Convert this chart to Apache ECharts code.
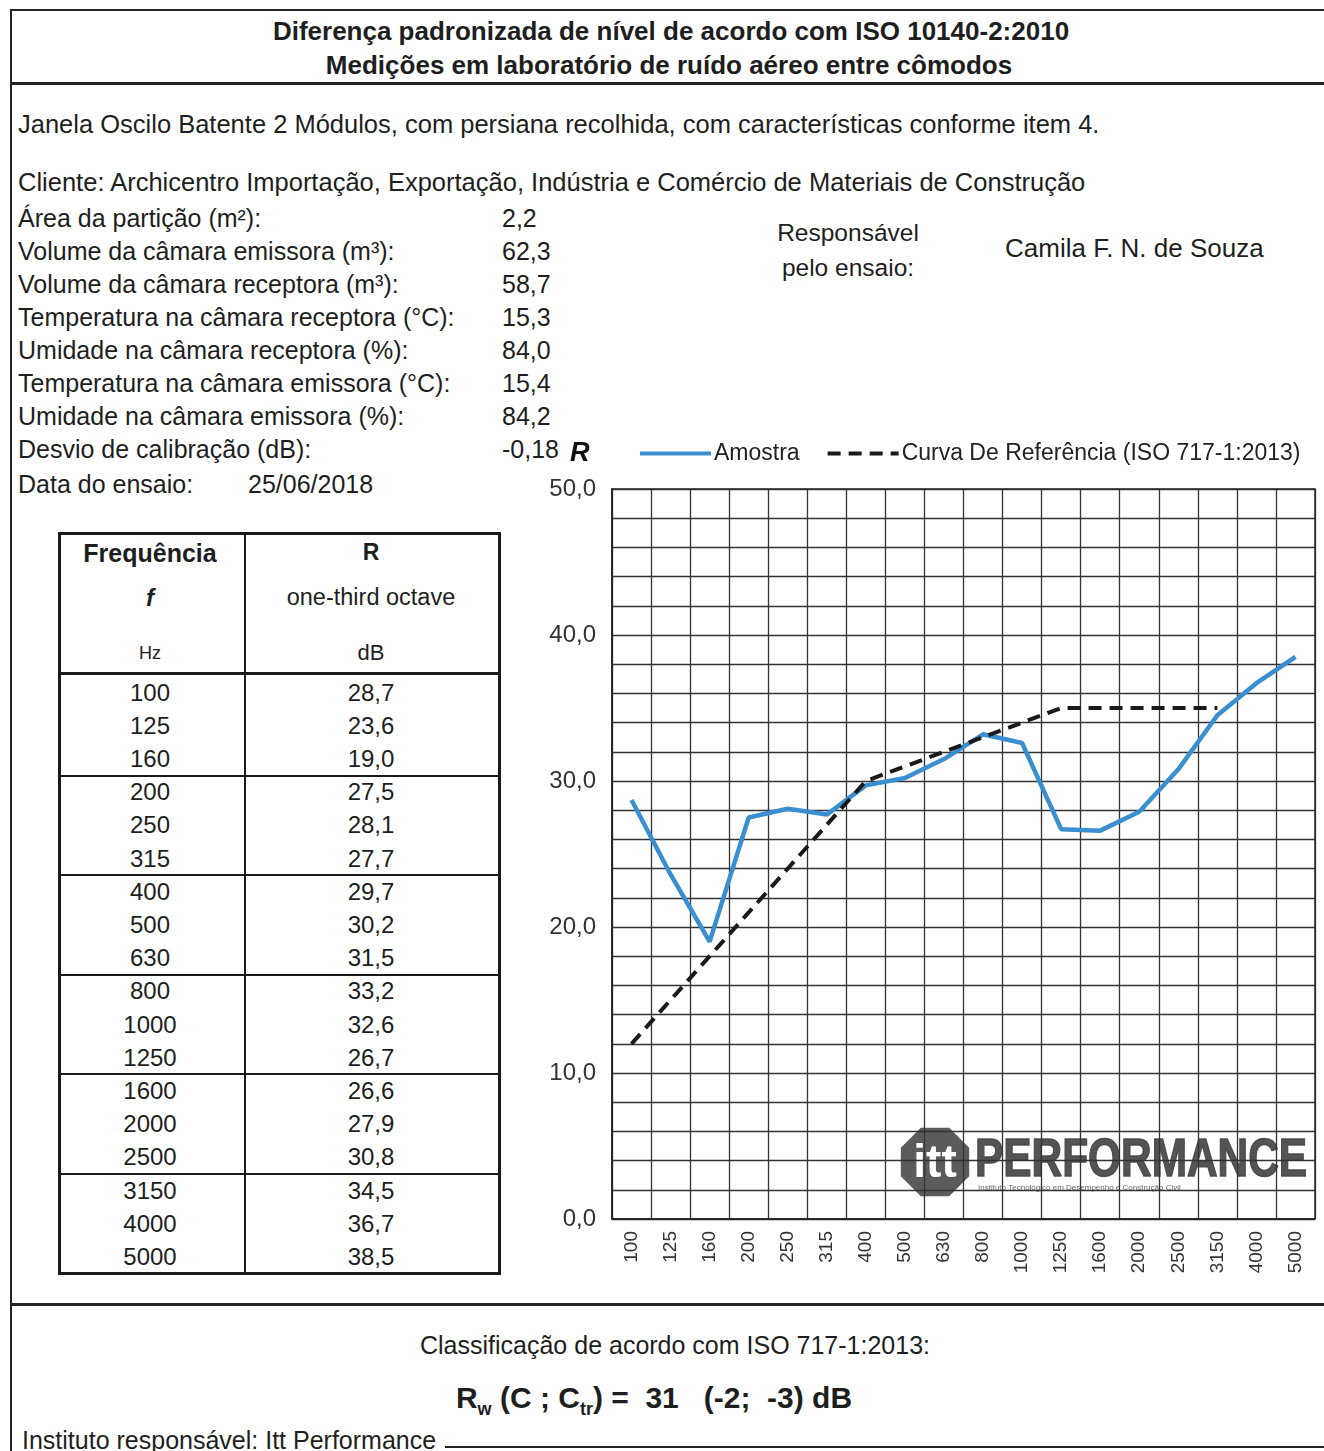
<!DOCTYPE html>
<html><head><meta charset="utf-8">
<script src="https://cdn.jsdelivr.net/npm/echarts@6/dist/echarts.min.js"></script>
<style>
html,body{margin:0;padding:0}
body{width:1324px;height:1451px;background:#fff;position:relative;overflow:hidden;font-family:"Liberation Sans",Arial,sans-serif;color:#1e1e1e}
.t{position:absolute;white-space:nowrap;line-height:1;transform:translateY(-50%)}
.c{transform:translate(-50%,-50%)}
.ln{position:absolute;background:#222}
#tbl{position:absolute;left:58px;top:532px;width:443px;height:743px;box-sizing:border-box;border:3px solid #1a1a1a}
#tbl .cell{position:absolute;white-space:nowrap;line-height:1;transform:translate(-50%,-50%);font-size:24px}
#chart{position:absolute;left:500px;top:420px;width:824px;height:880px}
</style></head><body>
<!-- frame -->
<div class="ln" style="left:10px;top:9px;width:1314px;height:2px"></div>
<div class="ln" style="left:10px;top:82px;width:1314px;height:3px"></div>
<div class="ln" style="left:10px;top:9px;width:2px;height:1442px"></div>
<div class="ln" style="left:10px;top:1303px;width:1314px;height:3px"></div>
<div class="ln" style="left:445px;top:1446px;width:879px;height:2px"></div>

<div class="t c" style="left:671px;top:31px;font-size:26px;font-weight:bold">Diferença padronizada de nível de acordo com ISO 10140-2:2010</div>
<div class="t c" style="left:669px;top:65px;font-size:26px;font-weight:bold">Medições em laboratório de ruído aéreo entre cômodos</div>

<div class="t" style="left:18px;top:125px;font-size:25.5px">Janela Oscilo Batente 2 Módulos, com persiana recolhida, com características conforme item 4.</div>
<div class="t" style="left:18px;top:183px;font-size:25.5px">Cliente: Archicentro Importação, Exportação, Indústria e Comércio de Materiais de Construção</div>
<div id="info"></div>
<div class="t c" style="left:848px;top:233px;font-size:24.5px">Responsável</div>
<div class="t c" style="left:848px;top:268px;font-size:24.5px">pelo ensaio:</div>
<div class="t" style="left:1005px;top:248px;font-size:26px">Camila F. N. de Souza</div>

<div id="tbl"></div>
<div id="chart"></div>

<div class="t c" style="left:675px;top:1345px;font-size:25px">Classificação de acordo com ISO 717-1:2013:</div>
<div class="t c" style="left:654px;top:1400px;font-size:30px;font-weight:bold">R<sub style="font-size:18px">w</sub> (C ; C<sub style="font-size:18px">tr</sub>) =&nbsp; 31 &nbsp;&nbsp;(-2;&nbsp; -3) dB</div>
<div class="t" style="left:22px;top:1440px;font-size:25px">Instituto responsável: Itt Performance</div>

<script>
// ---- data ----
const freqs = ['100','125','160','200','250','315','400','500','630','800','1000','1250','1600','2000','2500','3150','4000','5000'];
const sampleR = [28.7,23.6,19.0,27.5,28.1,27.7,29.7,30.2,31.5,33.2,32.6,26.7,26.6,27.9,30.8,34.5,36.7,38.5];
const refCurve = [12,15,18,21,24,27,30,31,32,33,34,35,35,35,35,35,null,null];
const infoLabels = ['Área da partição (m²):','Volume da câmara emissora (m³):','Volume da câmara receptora (m³):','Temperatura na câmara receptora (°C):','Umidade na câmara receptora (%):','Temperatura na câmara emissora (°C):','Umidade na câmara emissora (%):','Desvio de calibração (dB):'];
const infoValues = ['2,2','62,3','58,7','15,3','84,0','15,4','84,2','-0,18'];
const seriesNames = ['Amostra','Curva De Referência (ISO 717-1:2013)'];

// ---- info block ----
const info = document.getElementById('info');
let html = '';
infoLabels.forEach((l,i)=>{
  const y = 218 + i*33;
  html += `<div class="t" style="left:18px;top:${y}px;font-size:25px">${l}</div>`;
  html += `<div class="t" style="left:502px;top:${y}px;font-size:25px">${infoValues[i]}</div>`;
});
html += `<div class="t" style="left:18px;top:484px;font-size:25px">Data do ensaio:</div>`;
html += `<div class="t" style="left:248px;top:484px;font-size:25px">25/06/2018</div>`;
info.innerHTML = html;

// ---- table ----
const tbl = document.getElementById('tbl');
const fmt = v => v.toFixed(1).replace('.', ',');
let th = '';
const colX = 183;
th += `<div style="position:absolute;left:${colX}px;top:0;width:2px;height:737px;background:#1a1a1a"></div>`;
th += `<div style="position:absolute;left:0;top:137px;width:437px;height:3px;background:#1a1a1a"></div>`;
th += `<div class="cell" style="left:89px;top:18px;font-weight:bold;font-size:25px">Frequência</div>`;
th += `<div class="cell" style="left:89px;top:63px;font-weight:bold;font-style:italic">f</div>`;
th += `<div class="cell" style="left:89px;top:118px;font-size:18px">Hz</div>`;
th += `<div class="cell" style="left:310px;top:17px;font-weight:bold;font-size:23px">R</div>`;
th += `<div class="cell" style="left:310px;top:63px;font-size:23.5px">one-third octave</div>`;
th += `<div class="cell" style="left:310px;top:118px;font-size:22px">dB</div>`;
const rowH = 33.2, row0 = 141;
freqs.forEach((f,i)=>{
  const y = row0 + rowH*(i+0.5);
  th += `<div class="cell" style="left:89px;top:${y}px">${f}</div>`;
  th += `<div class="cell" style="left:310px;top:${y}px">${fmt(sampleR[i])}</div>`;
  if (i%3===2 && i<freqs.length-1){
    th += `<div style="position:absolute;left:0;top:${row0+rowH*(i+1)-1}px;width:437px;height:2px;background:#1a1a1a"></div>`;
  }
});
tbl.innerHTML = th;

// ---- chart ----
const chart = echarts.init(document.getElementById('chart'), null, {renderer:'canvas'});
const cx = 435, cy = 742, r = 37;
const oct = [];
for (let k=0;k<8;k++){ const a = Math.PI/8 + k*Math.PI/4; oct.push([cx + r*Math.cos(a), cy + r*Math.sin(a)]); }
chart.setOption({
  animation:false,
  backgroundColor:'transparent',
  textStyle:{fontFamily:'"Liberation Sans", Arial, sans-serif'},
  legend:{
    left:133, top:17, itemWidth:71, itemHeight:14, itemGap:26,
    itemStyle:{opacity:0},
    lineStyle:{width:4},
    textStyle:{fontSize:23, color:'#222', padding:[0,0,0,-2]},
    data:seriesNames
  },
  grid:{left:112, top:69, width:703, height:730, show:true, borderColor:'#222', borderWidth:1.5, containLabel:false},
  xAxis:{
    type:'category', data:freqs, boundaryGap:true,
    axisLine:{lineStyle:{color:'#222', width:1.5}},
    axisTick:{show:false},
    splitLine:{show:true, interval:0, lineStyle:{color:'#333', width:1.3}},
    axisLabel:{rotate:90, interval:0, fontSize:19, color:'#333', margin:12}
  },
  yAxis:{
    type:'value', min:0, max:50, interval:2,
    axisLine:{show:true, lineStyle:{color:'#222', width:1.5}},
    axisTick:{show:false},
    splitLine:{show:true, lineStyle:{color:'#333', width:1.3}},
    axisLabel:{fontSize:24, color:'#333', margin:16, formatter:v=> (v%10===0 ? fmt(v) : '')}
  },
  graphic:[
    {type:'text', left:70, top:20, style:{text:'R', font:'italic bold 27px "Liberation Sans", Arial', fill:'#111'}},
    {type:'group', z:1, children:[
      {type:'polygon', shape:{points:oct}, style:{fill:'#4d4d4d', opacity:0.92}},
      {type:'text', x:cx, y:cy+2, style:{text:'itt', font:'bold 46px "Liberation Sans", Arial', fill:'#fff', align:'center', verticalAlign:'middle'}},
      {type:'text', x:475, y:cy-1, scaleX:0.785, style:{text:'PERFORMANCE', font:'bold 54px "Liberation Sans", Arial', fill:'#474747', stroke:'#474747', lineWidth:1.5, opacity:0.93, align:'left', verticalAlign:'middle'}},
      {type:'text', x:478, y:cy+26, style:{text:'Instituto Tecnológico em Desempenho e Construção Civil', font:'8px "Liberation Sans", Arial', fill:'#666', align:'left', verticalAlign:'middle'}}
    ]}
  ],
  series:[
    {name:seriesNames[0], type:'line', data:sampleR, symbol:'none', z:3,
     lineStyle:{color:'#3a8fd0', width:4.5}, itemStyle:{color:'#3a8fd0'}},
    {name:seriesNames[1], type:'line', data:refCurve, symbol:'none', z:4,
     lineStyle:{color:'#1a1a1a', width:4, type:[13,8]}, itemStyle:{color:'#1a1a1a'}}
  ]
});
</script>
</body></html>
